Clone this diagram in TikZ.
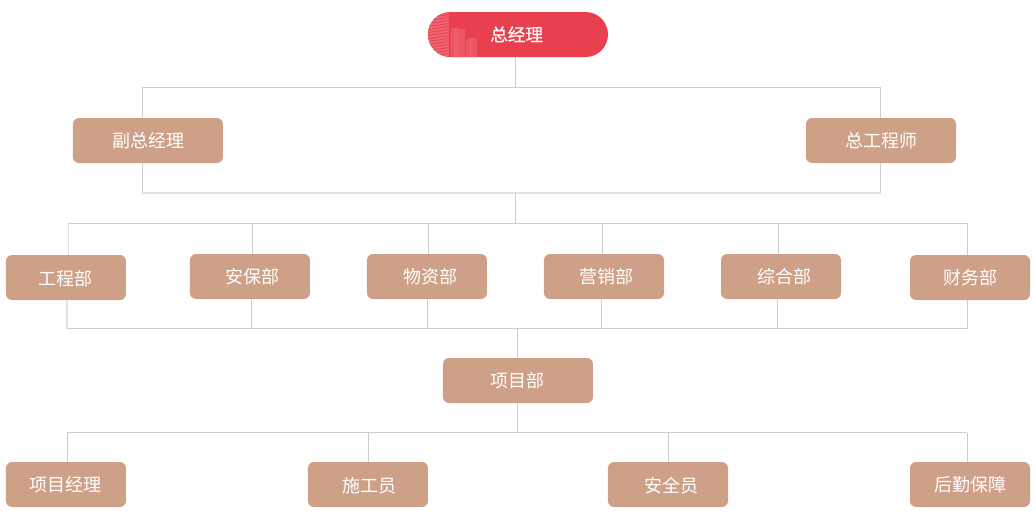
\documentclass[tikz,border=0pt]{standalone}
\usepackage{fontspec}
\setmainfont{Noto Sans CJK SC}
\newfontfamily\topfont[FakeBold=0.5]{Noto Sans CJK SC}
\usepackage{tikz}

% text inside a box, moved off the box centre
\newcommand{\boxtext}[3]{\raisebox{\dimexpr #2pt-0.38em\relax}[0pt][0pt]{\makebox[0pt]{\hspace{#1pt}#3}}}

\begin{document}
\begin{tikzpicture}[x=0.75pt,y=0.75pt]
	\tikzset{
		box/.style={fill=boxcolor,text=white,rounded corners=4.5pt,minimum height=33.75pt,inner sep=0pt,font=\fontsize{13.5}{16}\selectfont},
		small/.style={box,minimum width=90pt},
		wide/.style={box,minimum width=112.5pt},
		link/.style={draw=linecolor,line width=0.75pt},
		softlink/.style={draw=softcolor,line width=1.2pt}
	}
	\definecolor{boxcolor}{HTML}{CEA088}
	\definecolor{linecolor}{HTML}{CDCDCD}
	\definecolor{softcolor}{HTML}{E2E2E2}
	\definecolor{topcolor}{HTML}{E8404F}
	\definecolor{towercolor}{HTML}{EE6672}
	\definecolor{palecolor}{HTML}{EB5663}
	\definecolor{bandcolor}{HTML}{EC5E6B}

	\useasboundingbox (-518,34.5) rectangle (518,-494.5);

	\node (gm) [box,minimum width=135pt,rounded corners=16.8pt,fill=topcolor] {};

	% towers on the left end of the top box
	\begin{scope}
		\clip[rounded corners=16.8pt] (-90,22.5) rectangle (90,-22.5);
		\fill[towercolor] (-90,16) -- (-69,22.5) -- (-69,-22.5) -- (-90,-22.5) -- cycle;
		\fill[palecolor] (-67,7) -- (-53,5) -- (-53,-22.5) -- (-67,-22.5) -- cycle;
		\fill[palecolor] (-52,-5) -- (-46,-3) -- (-41,-4) -- (-41,-22.5) -- (-52,-22.5) -- cycle;
		\foreach \row in {20,17,...,-22}
		{
			\draw[topcolor,line width=0.6pt] (-90,\row-3) -- (-69,\row);
		}
		\fill[bandcolor] (-64,6.5) rectangle (-60,-22.5);
		\fill[bandcolor] (-49,-4) rectangle (-46,-22.5);
	\end{scope}
	\node at (gm) [text=white,font=\fontsize{13.2}{16}\topfont] {\boxtext{-2}{0}{总经理}};

	\node (vp) [wide,below of=gm,node distance=79.5pt,xshift=-277.5pt] {\boxtext{1.5}{0}{副总经理}};
	\node (ce) [wide,below of=gm,node distance=79.5pt,xshift=272.25pt] {\boxtext{0}{0}{总工程师}};

	\node (gc) [small,below of=vp,node distance=102.75pt,xshift=-61.5pt] {\boxtext{-1}{-1}{工程部}};
	\node (ab) [small,right of=gc,node distance=138pt,yshift=0.75pt] {\boxtext{4.5}{0}{安保部}};
	\node (wz) [small,right of=ab,node distance=132.75pt] {\boxtext{5.5}{0}{物资部}};
	\node (yx) [small,right of=wz,node distance=132.75pt] {\boxtext{4.5}{0}{营销部}};
	\node (zh) [small,right of=yx,node distance=132.75pt] {\boxtext{5.5}{0}{综合部}};
	\node (cw) [small,right of=zh,node distance=141.75pt,yshift=-0.75pt] {\boxtext{0}{0}{财务部}};

	\node (xm) [wide,below of=wz,node distance=78pt,xshift=68.25pt] {\boxtext{-0.5}{0}{项目部}};

	\node (pm) [small,below of=xm,node distance=78pt,xshift=-339pt] {\boxtext{-1}{0}{项目经理}};
	\node (sg) [small,right of=pm,node distance=226.5pt] {\boxtext{2}{-1}{施工员}};
	\node (aq) [small,right of=sg,node distance=225pt] {\boxtext{5.5}{-1}{安全员}};
	\node (hq) [small,right of=aq,node distance=226.5pt] {\boxtext{0.5}{0}{后勤保障}};

	\coordinate (bus1l) at (-375.5,-53);
	\coordinate (bus1r) at (362.5,-53);
	\coordinate (bus2l) at (-375.5,-158.5);
	\coordinate (bus2r) at (362.5,-158.5);
	\coordinate (bus3l) at (-449.5,-189);
	\coordinate (bus3r) at (449.8,-189);
	\coordinate (bus4l) at (-450.8,-294);
	\coordinate (bus4r) at (449.2,-294);
	\coordinate (bus5l) at (-450.8,-398);
	\coordinate (bus5r) at (449.2,-398);
	\coordinate (bus2m) at (-2,-158.5);
	\coordinate (bus3m) at (-2,-189);
	\coordinate (bus4m) at (0,-294);
	\coordinate (bus5m) at (0,-398);

	\draw[link] ([xshift=-1.5pt]gm.south) -- ([xshift=-1.5pt]gm.south |- bus1l);
	\draw[link] (bus1l) -- (bus1r);
	\draw[link] (bus1l) -- (bus1l |- vp.north);
	\draw[link] (bus1r) -- (bus1r |- ce.north);
	\draw[link] (bus2l |- vp.south) -- (bus2l);
	\draw[link] (bus2r |- ce.south) -- (bus2r);
	\draw[softlink] (bus2l) -- (bus2r);
	\draw[link] (bus2m) -- (bus3m);

	\draw[link] (bus3l) -- (bus3r);
	\draw[softlink] (bus3l) -- (bus3l |- gc.north);
	\draw[link] ([xshift=1.875pt]ab.north) -- ([xshift=1.875pt]ab.north |- bus3l);
	\draw[link] ([xshift=1.125pt]wz.north) -- ([xshift=1.125pt]wz.north |- bus3l);
	\draw[link] ([xshift=-1.125pt]yx.north) -- ([xshift=-1.125pt]yx.north |- bus3l);
	\draw[link] ([xshift=-1.875pt]zh.north) -- ([xshift=-1.875pt]zh.north |- bus3l);
	\draw[link] (bus3r) -- (bus3r |- cw.north);

	\draw[link] (bus4l) -- (bus4r);
	\draw[softlink] (bus4l) -- (bus4l |- gc.south);
	\draw[link] ([xshift=1.125pt]ab.south) -- ([xshift=1.125pt]ab.south |- bus4l);
	\draw[link] ([xshift=0.375pt]wz.south) -- ([xshift=0.375pt]wz.south |- bus4l);
	\draw[link] ([xshift=-1.875pt]yx.south) -- ([xshift=-1.875pt]yx.south |- bus4l);
	\draw[link] ([xshift=-2.625pt]zh.south) -- ([xshift=-2.625pt]zh.south |- bus4l);
	\draw[link] (bus4r) -- (bus4r |- cw.south);
	\draw[link] (bus4m) -- (xm.north);

	\draw[link] (xm.south) -- (bus5m);
	\draw[link] (bus5l) -- (bus5r);
	\draw[link] (bus5l) -- (bus5l |- pm.north);
	\draw[link] ([xshift=0.375pt]sg.north) -- ([xshift=0.375pt]sg.north |- bus5l);
	\draw[link] (aq.north) -- (aq.north |- bus5l);
	\draw[link] (bus5r) -- (bus5r |- hq.north);
\end{tikzpicture}
\end{document}
